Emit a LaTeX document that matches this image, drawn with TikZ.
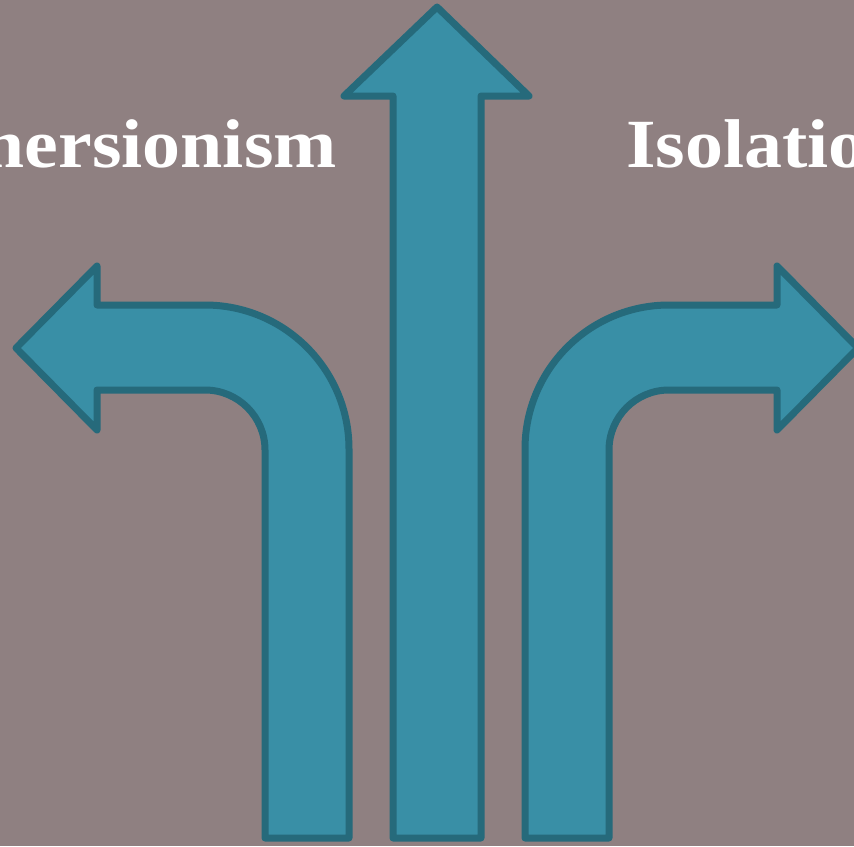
\documentclass[tikz,border=0pt]{standalone}
\usepackage{fontspec}
\setmainfont{Liberation Serif}
\newfontfamily\wayfont[FakeStretch=1.1]{Liberation Serif}
\usepackage{tikz}
\usetikzlibrary{positioning}
\definecolor{WayBack}{RGB}{143,128,129}
\definecolor{WayTeal}{RGB}{57,143,166}
\definecolor{WayEdge}{RGB}{38,106,123}

\begin{document}
\begin{tikzpicture}[x=1pt, y=1pt,
          way/.style={fill=WayTeal, draw=WayEdge, line width=7pt,
                      line join=round},
          choice/.style={text=white, inner sep=0pt,
                         font=\wayfont\bfseries\fontsize{69}{80}\selectfont}
        ]
        % Background
        \useasboundingbox (0,0) rectangle (854,-846);
        \clip (0,0) rectangle (854,-846);
        \fill[WayBack] (0,0) rectangle (854,-846);

        % Labels
        \node[choice, anchor=base east] (immersion) at (337,-167) {Immersionism};
        \node[choice, anchor=base west] (isolation) at (626,-167) {Isolationism};

        % Left arrow
        \draw[way] (265,-838) -- (265,-450)
              arc[start angle=0, end angle=90, radius=60]
              -- (97,-390) -- (97,-430) -- (16,-348) -- (97,-266) -- (97,-305)
              -- (205,-305) arc[start angle=90, end angle=0, radius=144]
              -- (349,-838) -- cycle;

        % Middle arrow
        \draw[way] (393,-838) -- (393,-96) -- (344,-96) -- (437,-7)
              -- (529,-96) -- (481,-96) -- (481,-838) -- cycle;

        % Right arrow
        \draw[way] (609,-838) -- (609,-450)
              arc[start angle=180, end angle=90, radius=60]
              -- (777,-390) -- (777,-430) -- (858,-348) -- (777,-266) -- (777,-305)
              -- (669,-305) arc[start angle=90, end angle=180, radius=144]
              -- (525,-838) -- cycle;
      \end{tikzpicture}
\end{document}
